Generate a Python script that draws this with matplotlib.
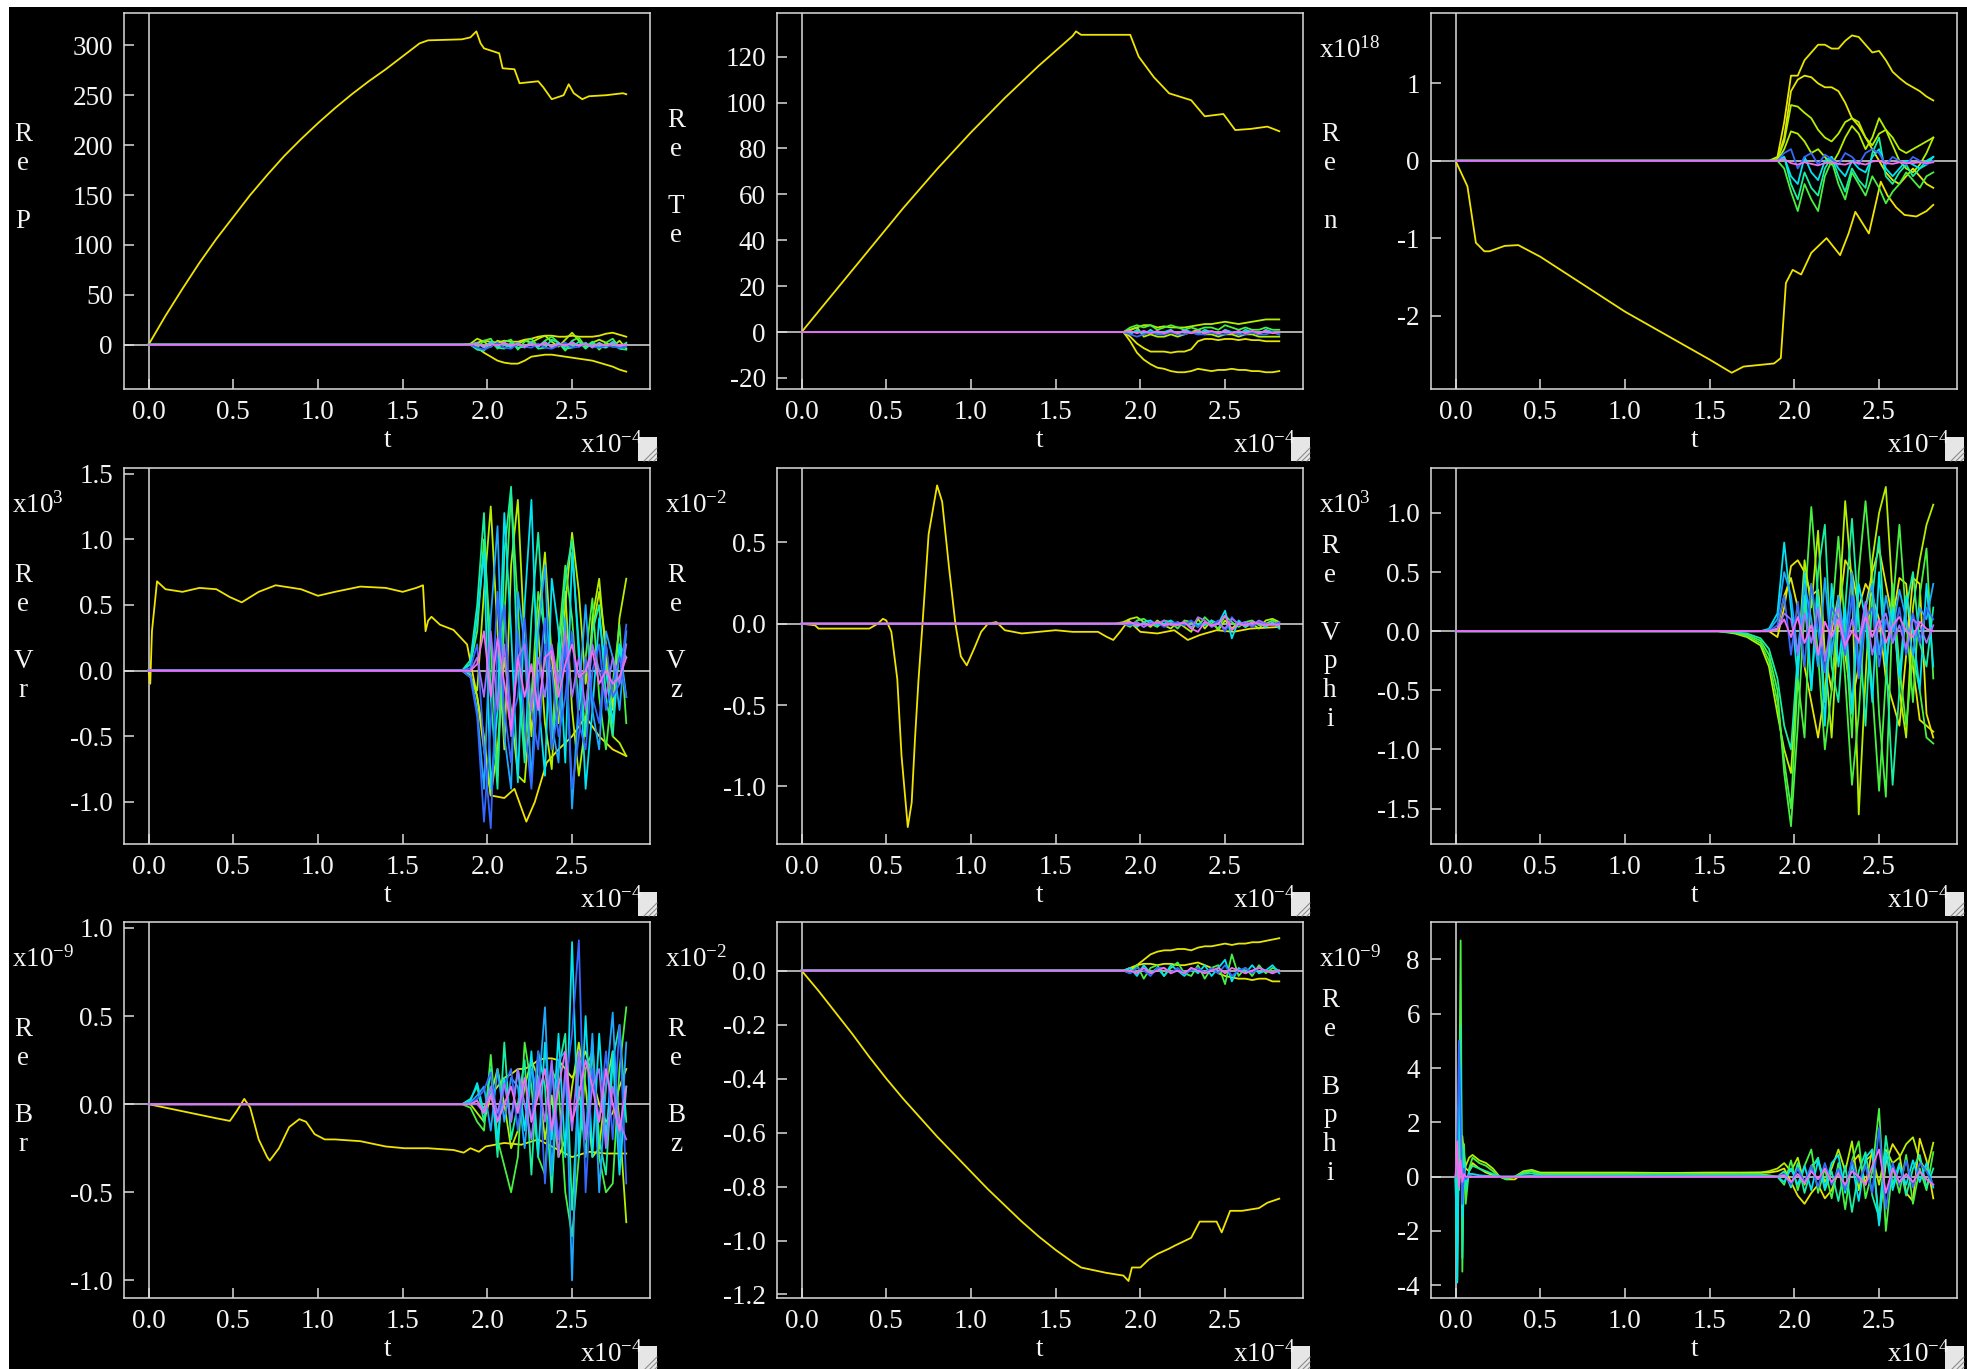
import matplotlib
matplotlib.use('Agg')
import matplotlib.pyplot as plt
from matplotlib.patches import Rectangle
from matplotlib.lines import Line2D

plt.rcParams['font.family'] = ['Liberation Serif', 'DejaVu Serif']
plt.rcParams['mathtext.default'] = 'regular'
plt.rcParams['axes.unicode_minus'] = False

W, H = 1967, 1369
fg = '#dcdcdc'
txt = '#f4f4f4'
yellow = '#f0e400'
mode_colors = {'y': '#e6e600', 'yg': '#b4f000', 'g': '#48f040', 's': '#18f0a0',
               'c': '#00e4f4', 'sky': '#1ca8ff', 'b': '#3468ff', 'v': '#a070ff',
               'm': '#f46cf0'}

# times are in units of 1e-4
xt = [0.0, 0.5, 1.0, 1.5, 2.0, 2.5]
tb = [1.80, 1.85, 1.90, 1.94, 1.98, 2.02, 2.06, 2.10, 2.14, 2.18, 2.22, 2.26, 2.30,
      2.34, 2.38, 2.42, 2.46, 2.50, 2.54, 2.58, 2.62, 2.66, 2.70, 2.74, 2.78, 2.82]
t6 = [1.55, 1.65, 1.72] + tb
t9 = [0.01, 0.02, 0.03, 0.04, 0.05, 0.06, 0.08, 0.1, 0.14, 0.18, 0.22, 0.26, 0.3,
      0.35, 0.4, 0.45, 0.5, 1.0, 1.5] + tb

# ---- Re P
P_t = [0, 0.1, 0.2, 0.3, 0.4, 0.5, 0.6, 0.7, 0.8, 0.9, 1.0, 1.1, 1.2, 1.3, 1.4, 1.5, 1.6, 1.65,
       1.85, 1.9, 1.935, 1.96, 1.98, 2.07, 2.09, 2.16, 2.19, 2.3, 2.33, 2.38, 2.45, 2.48, 2.51,
       2.56, 2.6, 2.7, 2.8, 2.82]
P_y = [0, 29, 56, 82, 106, 128, 150, 170, 189, 206, 222, 237, 251, 264, 276, 289, 302, 305,
       306, 308, 314, 302, 297, 292, 277, 276, 262, 264, 258, 246, 250, 261, 252,
       246, 249, 250, 252, 251]
P_y1 = [0, 0, 0, -3, -8, -12, -16, -18, -19, -19, -16, -12, -11, -10, -10, -11, -12, -13, -14, -15, -16, -18, -20, -22, -25, -27]
P_y2 = [0, 0, 0, 2, 4, 3, 2, 4, 3, 3, 5, 6, 8, 9, 9, 8, 8, 9, 8, 8, 8, 9, 11, 12, 10, 8]
P_yg = [0, 0, 1, 6, 3, -2, 4, 2, -3, 1, 4, 2, 6, 9, 3, -2, 5, 12, 4, -3, 2, 5, 2, -2, 4, -4]
P_g = [0, 0, 0, -3, 4, 6, -4, 3, 5, -5, 3, 6, -2, 4, 8, 2, -6, 4, 7, -2, 3, -5, 2, 6, -3, 2]
P_s = [0, 0, 0, -5, -6, 2, -3, -4, 2, -3, -2, 3, -4, -3, 5, 2, -4, -3, 3, -4, 2, -2, -3, 1, -4, -5]
P_c = [0, 0, 0, 2, -3, 3, -2, 2, -3, 2, -3, 2, -2, 3, -3, 2, -2, 3, -2, 2, -3, 2, -2, 3, -2, 1]
P_b = [0, 0, 0, -3, -5, -2, 2, -3, -4, 1, -2, -3, 1, -3, -4, -1, 2, -3, -2, 1, -2, -3, -1, -2, -3, -2]
P_m = [0, 0, 0, 1, -2, 1, -1, 2, -1, 1, -2, 1, -1, 2, -2, 1, -1, 2, -1, 1, -2, 1, -1, 1, -1, 0]

# ---- Re Te
Te_t = [0, 0.2, 0.4, 0.6, 0.8, 1.0, 1.2, 1.4, 1.6, 1.62, 1.65, 1.94, 1.99, 2.08, 2.17, 2.3,
        2.38, 2.49, 2.56, 2.65, 2.75, 2.82]
Te_y = [0, 18, 36, 54, 71, 87, 102, 116, 129, 131, 129.5, 129.5, 120, 111, 104, 101,
        94, 95, 88, 88.5, 89.5, 87.5]
Te_y1 = [0, 0, 0, -4, -9, -12, -14, -15.5, -16, -17, -17.5, -17.5, -17, -16, -16.5, -17, -16.5, -16.5, -16, -16.5, -16.5, -17, -17, -17.5, -17.5, -17]
Te_y2 = [0, 0, 0, -2, -5, -7, -8.5, -8.5, -8.5, -9, -8.5, -8.5, -7.5, -4, -3, -3, -3.5, -3, -3, -3.5, -3, -3.5, -3.5, -4, -4, -4]
Te_yg = [0, 0, 0, 1, 2, 3, 3, 2, 2.5, 2, 2, 2, 2.5, 3, 3.5, 3.5, 4, 4.5, 4, 3.5, 4, 4.5, 5, 5.5, 5.5, 5.5]
Te_yg2 = [0, 0, 0, 1, 2, -2, -1, -2, -2, -1, -2, -1, 0, 1, -1, -1, -2, -1, -1, -2, -1, -1, -2, -2, -2, -2]
Te_g = [0, 0, 0, 2, 3, 2, 3, 1, 2, 3, 2, 1, 2, 1, 2, 2, 1, 3, 2, 1, 2, 1, 1, 2, 1, 1]
Te_c = [0, 0, 0, -1, 1, -1, 1, -1, 0, 1, -1, 1, 0, -1, 1, 0, -1, 1, 0, -1, 1, 0, -1, 1, 0, -1]
Te_b = [0, 0, 0, -1, -2, -1, 0, -1, -1, 0, -1, -1, 0, -1, -1, 0, -1, -1, 0, -1, -1, 0, -1, -1, 0, -1]
Te_m = [0, 0, 0, 0.5, -0.5, 0.5, -0.5, 0.5, -0.5, 0.5, -0.5, 0.5, -0.5, 0.5, -0.5, 0.5, -0.5, 0.5, -0.5, 0.5, -0.5, 0.5, -0.5, 0.5, -0.5, 0]

# ---- Re n (x1e18)
n_t = [0, 0.07, 0.12, 0.17, 0.2, 0.29, 0.37, 0.5, 1.0, 1.5, 1.63, 1.7, 1.88, 1.92, 1.95,
       1.99, 2.04, 2.1, 2.19, 2.27, 2.32, 2.36, 2.44, 2.51, 2.55, 2.6, 2.65, 2.72, 2.78, 2.82]
n_y = [0, -0.33, -1.06, -1.17, -1.17, -1.10, -1.09, -1.24, -1.95, -2.57, -2.74, -2.66, -2.62, -2.55, -1.58,
       -1.41, -1.47, -1.19, -1.0, -1.22, -0.94, -0.66, -0.94, -0.27, -0.45, -0.6, -0.7, -0.72, -0.65, -0.57]
n_y1 = [0, 0, 0.05, 0.5, 1.1, 1.1, 1.3, 1.4, 1.5, 1.5, 1.45, 1.45, 1.55, 1.62, 1.6, 1.5, 1.4, 1.42, 1.3, 1.15, 1.07, 1.0, 0.95, 0.9, 0.83, 0.78]
n_y2 = [0, 0, 0.02, 0.3, 0.9, 1.05, 1.1, 1.08, 1.0, 0.95, 0.95, 0.9, 0.75, 0.55, 0.45, 0.3, 0.15, 0.0, -0.15, -0.25, -0.3, -0.2, -0.1, -0.2, -0.3, -0.35]
n_yg = [0, 0, 0.02, 0.25, 0.72, 0.7, 0.62, 0.55, 0.4, 0.3, 0.25, 0.35, 0.5, 0.55, 0.5, 0.3, 0.2, 0.35, 0.4, 0.3, 0.15, 0.1, 0.15, 0.2, 0.25, 0.3]
n_yg2 = [0, 0, 0, 0.15, 0.38, 0.35, 0.25, 0.1, 0.15, 0.05, -0.05, 0.1, 0.3, 0.45, 0.35, 0.15, 0.3, 0.55, 0.4, 0.2, 0.0, -0.1, -0.15, -0.05, 0.1, 0.3]
n_g = [0, 0, 0, -0.1, -0.4, -0.65, -0.3, -0.5, -0.65, -0.2, 0.0, -0.3, -0.5, -0.15, -0.3, -0.45, -0.2, -0.35, -0.55, -0.4, -0.3, -0.15, -0.25, -0.35, -0.2, -0.15]
n_s = [0, 0, 0, 0.05, -0.3, -0.5, -0.15, -0.35, -0.45, -0.1, 0.05, -0.2, -0.4, -0.1, -0.25, -0.35, 0.1, 0.3, -0.2, -0.3, -0.15, -0.05, -0.2, -0.1, -0.05, 0.05]
n_c = [0, 0, 0, 0.05, -0.2, -0.3, 0.05, -0.15, -0.25, 0.0, 0.05, -0.1, -0.2, 0.0, -0.1, -0.15, 0.05, 0.15, -0.1, -0.2, -0.1, 0.0, -0.05, -0.1, 0.0, 0.05]
n_b = [0, 0, 0, 0.1, 0.15, -0.1, 0.05, 0.1, -0.05, 0.08, 0.02, -0.05, 0.1, 0.05, -0.05, 0.1, 0.15, 0.1, -0.05, 0.05, 0.0, -0.05, 0.05, 0.0, -0.05, 0.0]
n_m = [0, 0, 0, 0.02, -0.03, -0.05, -0.02, -0.04, -0.06, -0.03, -0.02, -0.04, -0.05, -0.02, -0.03, -0.05, -0.01, 0.0, -0.03, -0.04, -0.02, -0.03, -0.03, -0.02, -0.03, -0.02]

# ---- Re Vr (x1e3)
Vr_t = [0, 0.01, 0.02, 0.05, 0.1, 0.2, 0.3, 0.4, 0.48, 0.55, 0.65, 0.75, 0.9, 1.0, 1.1,
        1.25, 1.4, 1.5, 1.58, 1.62, 1.635, 1.65, 1.67, 1.72, 1.8, 1.88, 1.94, 1.98, 2.02, 2.1,
        2.16, 2.23, 2.28, 2.35, 2.42, 2.5, 2.58, 2.66, 2.74, 2.82]
Vr_y = [0, -0.1, 0.3, 0.68, 0.62, 0.6, 0.63, 0.62, 0.56, 0.52, 0.6, 0.65, 0.62, 0.57, 0.6,
        0.64, 0.63, 0.6, 0.63, 0.65, 0.3, 0.38, 0.41, 0.35, 0.31, 0.2, -0.2, -0.6, -0.95, -0.97,
        -0.9, -1.15, -1.0, -0.7, -0.6, -0.5, -0.35, -0.5, -0.6, -0.65]
Vr_yg = [0, 0, -0.05, -0.15, 0.6, 1.25, 0.3, -0.6, 0.8, 1.3, 0.2, -0.5, 0.4, 0.9, 0.1, -0.4, 0.5, 1.05, 0.6, -0.1, 0.3, 0.6, 0.2, -0.3, 0.4, 0.7]
Vr_yg2 = [0, 0, -0.03, -0.2, -0.5, -0.95, -0.6, 0.1, -0.3, -0.8, -0.85, -0.2, 0.3, -0.4, -0.75, 0.2, 0.6, -0.3, -0.8, -0.4, 0.4, 0.7, 0.1, -0.5, -0.55, -0.65]
Vr_g = [0, 0, 0.05, 0.3, 1.0, 0.2, -0.8, 0.4, 1.35, 0.5, -0.6, -0.2, 0.6, 0.3, -0.5, 0.2, 0.8, 0.4, -0.3, 0.1, 0.55, -0.2, -0.6, -0.1, 0.35, -0.4]
Vr_s = [0, 0, 0.08, 0.5, 1.2, -0.2, -0.9, 0.9, 1.4, 0.0, -0.7, 0.4, 1.05, 0.2, -0.6, -0.1, 0.7, 1.0, 0.1, -0.5, 0.3, 0.5, -0.2, -0.5, 0.2, 0.1]
Vr_c = [0, 0, 0.05, 0.4, 0.9, -0.9, -0.3, 1.2, 0.3, -0.85, 0.5, 1.3, -0.2, -0.8, 0.7, 0.3, -0.7, 0.9, 0.2, -0.9, -0.3, 0.4, 0.0, -0.4, 0.2, -0.2]
Vr_sky = [0, 0, -0.02, -0.3, -0.9, 0.4, 1.1, -0.5, -0.9, 0.6, 0.2, -0.85, 0.3, 0.8, -0.4, -0.7, 0.4, -1.05, -0.2, 0.5, -0.3, -0.6, 0.3, 0.1, -0.3, 0.3]
Vr_b = [0, 0, -0.05, -0.35, -1.15, -0.4, 0.6, -0.3, -0.7, 0.3, -0.4, -0.9, -0.1, 0.4, -0.6, -0.3, 0.2, -0.9, -0.5, 0.1, -0.2, -0.4, 0.2, -0.2, -0.1, 0.35]
Vr_b2 = [0, 0, 0.02, 0.2, -0.6, -1.2, 0.2, 0.5, -0.4, -0.2, 0.4, -0.3, -0.6, 0.2, 0.0, -0.5, -0.2, 0.3, -0.4, -0.6, 0.0, 0.2, -0.3, -0.1, 0.1, -0.2]
Vr_v = [0, 0, 0, 0.1, -0.2, 0.3, -0.3, 0.2, -0.5, 0.1, 0.2, -0.3, 0.1, -0.2, 0.2, -0.1, 0.3, -0.2, 0.1, -0.3, 0.2, 0.0, -0.2, 0.1, -0.1, 0.2]
Vr_m = [0, 0, 0, 0.05, 0.3, -0.2, 0.25, -0.1, -0.45, 0.1, -0.2, 0.05, -0.3, 0.1, 0.15, -0.2, 0.05, 0.2, -0.05, 0.0, 0.15, -0.1, 0.0, -0.1, -0.05, 0.1]

# ---- Re Vz (x1e-2)
Vz_t = [0, 0.08, 0.1, 0.3, 0.4, 0.45, 0.48, 0.5, 0.53, 0.565, 0.59, 0.627, 0.65, 0.67, 0.69,
        0.714, 0.75, 0.8, 0.83, 0.87, 0.908, 0.94, 0.975, 1.02, 1.06, 1.1, 1.15, 1.2, 1.3, 1.4,
        1.5, 1.6, 1.75, 1.8, 1.84, 1.88, 1.93, 2.0, 2.1, 2.2, 2.28, 2.35, 2.45, 2.55, 2.65, 2.82]
Vz_y = [0, -0.01, -0.03, -0.03, -0.03, 0.0, 0.03, 0.02, -0.05, -0.34, -0.81, -1.25, -1.1, -0.7, -0.35,
        0.0, 0.55, 0.85, 0.75, 0.35, 0.0, -0.2, -0.256, -0.15, -0.05, 0.0, 0.01, -0.04, -0.06, -0.05,
        -0.04, -0.05, -0.05, -0.08, -0.1, -0.05, 0.02, -0.05, -0.06, -0.04, -0.1, -0.07, -0.04, -0.05, -0.03, -0.02]
Vz_yg = [0, 0, 0.01, 0.03, 0.04, 0.01, -0.02, 0.02, -0.01, -0.03, 0.01, -0.02, -0.05, 0.03, -0.03, 0.02, -0.04, 0.02, -0.03, 0.01, -0.02, 0.0, -0.03, 0.02, 0.03, 0.01]
Vz_g = [0, 0, 0.0, -0.02, 0.02, 0.03, 0.0, -0.02, 0.02, 0.01, -0.03, 0.02, 0.01, -0.02, 0.04, 0.0, -0.03, 0.05, 0.01, -0.02, 0.01, 0.02, -0.01, 0.0, 0.02, 0.0]
Vz_c = [0, 0, 0.0, 0.01, -0.02, 0.01, 0.02, -0.01, 0.0, 0.02, -0.01, 0.01, -0.02, 0.0, -0.01, 0.02, 0.0, 0.08, -0.09, 0.02, -0.02, 0.01, 0.0, -0.02, 0.01, -0.03]
Vz_b = [0, 0, 0.0, -0.01, 0.01, -0.02, 0.0, 0.01, -0.02, 0.0, 0.01, -0.01, 0.02, -0.02, 0.01, -0.01, 0.02, -0.05, 0.04, -0.01, 0.01, -0.02, 0.01, 0.0, -0.01, 0.01]
Vz_v = [0, 0, 0, 0.0, 0.01, -0.02, 0.01, 0.0, 0.02, -0.01, 0.0, 0.01, -0.03, 0.04, 0.02, -0.02, 0.0, -0.03, 0.03, 0.0, 0.01, -0.01, 0.02, 0.0, -0.01, 0.0]
Vz_m = [0, 0, 0.0, 0.01, -0.01, 0.0, -0.01, 0.01, -0.01, 0.0, -0.01, 0.01, -0.03, -0.05, 0.01, -0.01, 0.0, 0.05, -0.04, 0.0, -0.01, 0.01, 0.0, -0.01, 0.0, -0.01]

# ---- Re Vphi (x1e3), modes on t6
Vp_g1 = [0, -0.01, -0.03, -0.08, -0.2, -0.5, -1.2, -1.65, -0.8, 0.2, 1.05, 0.3, -0.6, 0.1, 0.8, 0.0, -0.9, 0.5, 1.1, 0.4, -0.7, -1.4, 0.2, 0.9, 0.1, -0.6, 0.3, 0.7, -0.4]
Vp_g2 = [0, -0.02, -0.05, -0.12, -0.3, -0.7, -1.0, -1.2, -0.3, 0.6, 0.2, 0.85, -0.2, -0.9, 0.1, 1.1, 0.4, -1.55, -0.4, 0.6, 1.0, 1.22, 0.3, -0.5, -0.9, 0.2, 0.6, 0.9, 1.07]
Vp_g3 = [0, -0.01, -0.04, -0.1, -0.25, -0.6, -1.1, -1.5, -0.4, -0.9, 0.4, -0.2, -1.0, -0.5, 0.3, -0.4, -1.3, -0.7, 0.2, -0.5, -1.35, -0.4, 0.4, -0.3, -0.8, -0.2, -0.5, -0.9, -0.95]
Vp_y1 = [0, 0, 0, 0, 0, -0.05, 0.2, 0.55, 0.6, 0.5, 0.3, 0.35, -0.2, -0.5, 0.1, 0.6, 0.5, 0.2, 0.4, 0.3, 0.1, -0.4, -0.6, -0.8, -0.2, 0.45, 0.4, -0.7, -0.9]
Vp_y2 = [0, 0, 0, 0, 0, 0.02, 0.3, 0.45, 0.2, -0.3, -0.6, -0.9, -0.5, 0.0, 0.3, -0.2, -0.6, -0.3, 0.2, 0.5, 0.7, 0.4, 0.1, 0.45, 0.4, -0.3, -0.75, -0.8, -0.85]
Vp_s = [0, -0.01, -0.02, -0.06, -0.15, -0.4, -0.8, -1.0, -0.2, 0.3, -0.5, 0.5, 0.9, -0.3, -0.6, 0.2, 0.95, 0.1, -0.8, 0.3, 0.8, -0.2, -1.3, -0.5, 0.2, 0.5, -0.1, -0.3, 0.2]
Vp_c = [0, 0, 0, 0, 0.02, 0.15, 0.75, 0.2, -0.4, 0.5, -0.5, 0.3, -0.8, 0.4, -0.3, 0.2, -0.7, 0.4, 0.1, -0.6, 0.5, -0.3, 0.2, -0.4, 0.3, 0.0, -0.5, 0.4, -0.3]
Vp_sky = [0, 0, 0, 0, 0.01, 0.1, 0.5, 0.3, -0.2, 0.4, 0.1, -0.3, 0.45, -0.2, 0.3, -0.1, 0.5, -0.3, 0.2, 0.4, -0.2, 0.3, 0.0, 0.35, 0.1, -0.2, 0.2, 0.1, 0.4]
Vp_b = [0, 0, 0, 0, 0, 0.05, 0.3, -0.2, 0.25, -0.3, 0.4, 0.0, -0.35, 0.2, 0.1, -0.2, 0.3, -0.4, 0.1, 0.2, -0.3, 0.1, -0.1, 0.2, -0.2, 0.15, -0.1, 0.2, 0.1]
Vp_v = [0, 0, 0, 0, 0, 0.02, 0.15, 0.1, -0.2, 0.15, -0.1, 0.2, -0.25, 0.05, 0.2, -0.15, 0.1, -0.1, 0.25, -0.2, 0.05, 0.15, -0.1, 0.05, -0.15, 0.1, 0.05, -0.1, 0.05]
Vp_m = [0, 0, 0, 0, 0, 0.02, 0.1, -0.05, 0.12, -0.1, 0.05, -0.2, 0.08, -0.05, 0.1, -0.12, 0.0, -0.08, 0.12, -0.05, 0.1, -0.1, 0.05, 0.12, 0.0, -0.05, 0.08, 0.02, 0.0]

# ---- Re Br (x1e-9)
Br_t = [0, 0.1, 0.2, 0.3, 0.4, 0.48, 0.52, 0.565, 0.6, 0.65, 0.7, 0.715, 0.77, 0.83, 0.89,
        0.93, 0.98, 1.04, 1.1, 1.25, 1.4, 1.51, 1.65, 1.8, 1.86, 1.9, 1.95, 1.99, 2.1, 2.2,
        2.3, 2.4, 2.5, 2.6, 2.7, 2.82]
Br_y = [0, -0.02, -0.04, -0.06, -0.08, -0.095, -0.04, 0.03, -0.02, -0.2, -0.3, -0.32, -0.25, -0.13, -0.085,
        -0.1, -0.17, -0.2, -0.2, -0.21, -0.24, -0.25, -0.25, -0.26, -0.275, -0.25, -0.27, -0.24, -0.22, -0.23,
        -0.2, -0.25, -0.3, -0.27, -0.28, -0.28]
Br_y1 = [0, 0, 0, 0, -0.02, 0.05, 0.1, 0.15, 0.17, 0.2, 0.2, 0.22, 0.25, 0.26, 0.26, 0.25, 0.2, 0.15, 0.22, 0.3, 0.15, 0.0, -0.1, -0.05, 0.1, 0.2]
Br_yg = [0, 0, 0, -0.05, -0.1, 0.05, 0.2, 0.0, -0.25, -0.15, 0.1, 0.25, 0.15, -0.2, 0.05, -0.3, -0.2, 0.1, 0.35, 0.1, -0.3, -0.25, 0.1, 0.3, -0.1, -0.67]
Br_g = [0, 0, -0.02, -0.1, -0.15, 0.28, -0.2, -0.35, -0.5, -0.3, 0.35, 0.1, -0.3, -0.4, 0.2, 0.1, -0.5, -0.75, -0.3, 0.2, 0.3, -0.3, -0.5, -0.45, 0.2, 0.55]
Br_s = [0, 0, 0.03, 0.1, -0.1, 0.2, -0.3, 0.35, -0.2, 0.0, 0.25, -0.4, 0.3, 0.1, -0.5, 0.2, 0.4, -0.6, 0.1, -0.3, 0.35, -0.2, -0.4, 0.25, 0.45, -0.1]
Br_c = [0, 0, 0.02, 0.12, -0.05, 0.1, -0.2, 0.15, -0.1, 0.2, -0.15, 0.3, -0.3, 0.35, -0.2, 0.4, -0.3, 0.92, -0.3, 0.5, -0.3, 0.4, -0.2, 0.3, -0.4, 0.1]
Br_sky = [0, 0, 0.01, 0.05, 0.1, -0.15, 0.2, -0.1, 0.15, 0.1, -0.25, 0.2, 0.05, 0.55, -0.4, 0.25, 0.3, -1.0, 0.3, -0.2, 0.4, -0.5, 0.1, 0.52, -0.3, 0.35]
Br_b = [0, 0, 0.0, 0.03, 0.08, 0.18, -0.1, 0.1, 0.2, -0.15, 0.15, -0.1, 0.3, -0.45, 0.2, -0.2, 0.1, 0.4, 0.93, -0.5, 0.2, -0.1, 0.3, -0.2, 0.45, -0.45]
Br_v = [0, 0, 0, 0.0, -0.05, 0.1, -0.05, 0.12, -0.1, 0.2, 0.0, -0.2, 0.15, -0.1, 0.25, -0.3, 0.2, -0.15, 0.3, -0.2, 0.1, 0.2, -0.25, 0.1, -0.1, -0.2]
Br_m = [0, 0, 0, 0.02, -0.05, 0.05, -0.1, 0.0, 0.1, -0.05, 0.15, -0.1, 0.05, 0.2, -0.15, 0.1, 0.3, -0.1, 0.05, 0.25, 0.1, -0.1, 0.2, 0.0, -0.15, 0.1]

# ---- Re Bz (x1e-2)
Bz_t = [0, 0.1, 0.2, 0.3, 0.4, 0.5, 0.6, 0.7, 0.8, 0.9, 1.0, 1.1, 1.2, 1.3, 1.4, 1.5, 1.6,
        1.65, 1.8, 1.9, 1.93, 1.95, 2.0, 2.05, 2.1, 2.17, 2.2, 2.3, 2.35, 2.45, 2.48, 2.53,
        2.6, 2.7, 2.75, 2.82]
Bz_y = [0, -0.075, -0.155, -0.235, -0.32, -0.4, -0.475, -0.545, -0.615, -0.68, -0.745, -0.81,
        -0.87, -0.93, -0.985, -1.035, -1.08, -1.1, -1.12, -1.13, -1.15, -1.1, -1.1, -1.07, -1.05,
        -1.03, -1.02, -0.99, -0.93, -0.93, -0.97, -0.89, -0.89, -0.88, -0.86, -0.845]
Bz_y1 = [0, 0, 0, 0.0, 0.02, 0.04, 0.06, 0.07, 0.075, 0.075, 0.08, 0.08, 0.075, 0.085, 0.09, 0.09, 0.095, 0.1, 0.095, 0.1, 0.1, 0.105, 0.105, 0.11, 0.115, 0.12]
Bz_y2 = [0, 0, 0, 0.01, 0.02, 0.025, 0.025, 0.02, 0.025, 0.025, 0.02, 0.02, 0.025, 0.03, 0.02, 0.01, -0.01, -0.02, -0.025, -0.03, -0.03, -0.035, -0.03, -0.03, -0.04, -0.04]
Bz_g = [0, 0, 0, -0.01, 0.02, -0.03, 0.01, 0.02, -0.02, 0.01, 0.03, -0.01, -0.02, 0.02, -0.03, 0.01, 0.02, -0.05, 0.06, -0.02, 0.01, -0.02, 0.02, -0.01, 0.01, 0.0]
Bz_c = [0, 0, 0, 0.01, -0.02, 0.02, -0.01, 0.01, -0.02, 0.02, 0.0, -0.02, 0.01, -0.01, 0.02, -0.02, 0.01, 0.04, -0.04, 0.01, -0.01, 0.02, -0.01, 0.0, 0.02, -0.01]
Bz_b = [0, 0, 0, -0.01, 0.01, 0.0, -0.02, 0.01, 0.01, -0.01, 0.01, -0.01, 0.0, 0.01, -0.01, 0.01, -0.01, 0.02, -0.02, 0.0, 0.01, -0.01, 0.01, 0.0, -0.01, 0.0]
Bz_m = [0, 0, 0, 0.0, -0.01, 0.01, -0.01, 0.0, 0.01, -0.01, 0.0, -0.01, 0.01, 0.0, -0.01, 0.0, 0.01, -0.01, 0.01, 0.0, -0.01, 0.0, 0.01, 0.0, -0.01, 0.0]

# ---- Re Bphi (x1e-9), modes on t9 (early burst, then late growth)
Bp_y = [0.2, 0.5, 1.0, 1.5, 0.8, 0.3, 0.2, 0.5, 0.3, 0.15, 0.05, 0.0, -0.1, -0.1, 0.15, 0.2, 0.1, 0.12, 0.15] + \
       [0.15, 0.15, 0.2, 0.3, -0.2, -0.7, -1.0, -0.6, -0.3, -0.8, -0.5, 0.2, -0.4, 0.5, 0.8, -0.3, 1.0, -1.7, 0.5, 1.2, 0.8, -0.6, -0.9, 1.4, 0.6, -0.8]
Bp_yg = [0.3, -0.5, 2.0, -1.5, 0.6, 0.4, 0.7, 0.8, 0.6, 0.5, 0.3, 0.0, -0.05, 0.0, 0.2, 0.25, 0.15, 0.15, 0.12] + \
        [0.15, 0.2, 0.3, 0.5, 0.2, 0.7, -0.3, 0.4, 0.6, -0.2, 0.3, 1.0, 0.2, 1.3, -0.5, 0.6, 0.8, -0.3, 1.0, 0.5, 0.7, 1.2, 1.45, 0.6, 0.2, 1.25]
Bp_g = [-3.8, 1.5, 8.7, -3.5, 1.2, -1.0, 0.3, 0.7, 0.5, 0.4, 0.2, 0.0, -0.1, 0.0, 0.15, 0.2, 0.1, 0.1, 0.1] + \
       [0.1, 0.05, 0.0, -0.3, 0.6, -0.5, 0.4, 1.0, -0.6, 0.3, -0.8, 0.5, -1.2, 0.6, 1.3, -0.8, 0.2, 2.5, -2.0, 0.4, -0.6, 0.8, -1.0, 0.3, -0.5, 0.9]
Bp_s = [-2.5, 3.0, 5.5, -3.0, 1.0, -0.5, 0.2, 0.4, 0.3, 0.2, 0.1, 0.0, -0.05, 0.0, 0.1, 0.12, 0.05, 0.05, 0.05] + \
       [0.05, 0.0, 0.0, 0.2, -0.4, 0.5, -0.6, 0.3, 0.7, -0.5, 0.2, -0.9, 0.4, -1.3, 0.2, 0.9, -0.7, -1.5, 1.5, -0.3, 0.5, -0.7, 0.3, 0.8, -0.4, 0.3]
Bp_c = [-3.9, 2.0, 4.0, -1.5, 0.5, -0.2, 0.1, 0.1, 0.05, 0.03, 0.02, 0.0, 0.0, 0.0, 0.02, 0.03, 0.02, 0.02, 0.02] + \
       [0.02, 0.0, 0.0, -0.2, 0.3, -0.3, 0.4, -0.5, 0.6, -0.4, 0.5, 0.8, -0.6, 0.5, -0.9, 0.7, 1.0, -1.8, 0.9, -0.5, 0.4, -0.3, 0.6, -0.2, 0.5, -0.4]
Bp_b = [1.0, 5.0, 2.0, -1.0, 0.3, -0.1, 0.05, 0.0, 0.0, 0.0, 0.0, 0.0, 0.0, 0.0, 0.0, 0.0, 0.0, 0.0, 0.0] + \
       [0.0, 0.0, 0.0, 0.1, -0.3, 0.3, -0.2, 0.4, -0.4, 0.5, -0.3, 0.3, -0.5, 0.6, -0.2, 0.4, -0.6, 1.8, -1.2, 0.5, -0.3, 0.6, -0.4, 0.5, 0.2, -0.3]
Bp_m = [1.3, -0.4, 0.6, -0.2, 0.1, 0.0, 0.0, 0.0, 0.0, 0.0, 0.0, 0.0, 0.0, 0.0, 0.0, 0.0, 0.0, 0.0, 0.0] + \
       [0.0, 0.0, 0.0, 0.05, -0.2, 0.1, -0.25, 0.2, -0.1, 0.3, -0.2, 0.1, -0.3, 0.2, 0.0, -0.3, 0.4, 1.0, -0.6, 0.3, -0.2, 0.1, -0.2, 0.2, -0.1, -0.3]

panels = [
    dict(row=0, col=0, label='R\ne\n\nP', mult=None, t_main=P_t, y_main=P_y, t_modes=tb,
         modes=[('y', P_y1), ('y', P_y2), ('yg', P_yg), ('g', P_g), ('s', P_s), ('c', P_c), ('b', P_b), ('m', P_m)],
         ylim=(-44.4, 332.4), yticks=[0, 50, 100, 150, 200, 250, 300], fmt='%d'),
    dict(row=0, col=1, label='R\ne\n\nT\ne', mult=None, t_main=Te_t, y_main=Te_y, t_modes=tb,
         modes=[('y', Te_y1), ('y', Te_y2), ('yg', Te_yg), ('yg', Te_yg2), ('g', Te_g), ('c', Te_c), ('b', Te_b), ('m', Te_m)],
         ylim=(-24.8, 139), yticks=[-20, 0, 20, 40, 60, 80, 100, 120], fmt='%d'),
    dict(row=0, col=2, label='R\ne\n\nn', mult='x10$^{18}$', t_main=n_t, y_main=n_y, t_modes=tb,
         modes=[('y', n_y1), ('y', n_y2), ('yg', n_yg), ('yg', n_yg2), ('g', n_g), ('s', n_s), ('c', n_c), ('b', n_b), ('m', n_m)],
         ylim=(-2.95, 1.91), yticks=[-2, -1, 0, 1], fmt='%d'),
    dict(row=1, col=0, label='R\ne\n\nV\nr', mult='x10$^{3}$', t_main=Vr_t, y_main=Vr_y, t_modes=tb,
         modes=[('yg', Vr_yg), ('yg', Vr_yg2), ('g', Vr_g), ('s', Vr_s), ('c', Vr_c), ('sky', Vr_sky),
                ('b', Vr_b), ('b', Vr_b2), ('v', Vr_v), ('m', Vr_m)],
         ylim=(-1.32, 1.543), yticks=[-1.0, -0.5, 0.0, 0.5, 1.0, 1.5], fmt='%.1f'),
    dict(row=1, col=1, label='R\ne\n\nV\nz', mult='x10$^{-2}$', t_main=Vz_t, y_main=Vz_y, t_modes=tb,
         modes=[('yg', Vz_yg), ('g', Vz_g), ('c', Vz_c), ('b', Vz_b), ('v', Vz_v), ('m', Vz_m)],
         ylim=(-1.354, 0.957), yticks=[-1.0, -0.5, 0.0, 0.5], fmt='%.1f'),
    dict(row=1, col=2, label='R\ne\n\nV\np\nh\ni', mult='x10$^{3}$', t_main=None, y_main=None, t_modes=t6,
         modes=[('y', Vp_y1), ('y', Vp_y2), ('g', Vp_g1), ('yg', Vp_g2), ('g', Vp_g3), ('s', Vp_s), ('c', Vp_c),
                ('sky', Vp_sky), ('b', Vp_b), ('v', Vp_v), ('m', Vp_m)],
         ylim=(-1.80, 1.38), yticks=[-1.5, -1.0, -0.5, 0.0, 0.5, 1.0], fmt='%.1f'),
    dict(row=2, col=0, label='R\ne\n\nB\nr', mult='x10$^{-9}$', t_main=Br_t, y_main=Br_y, t_modes=tb,
         modes=[('y', Br_y1), ('yg', Br_yg), ('g', Br_g), ('s', Br_s), ('c', Br_c), ('sky', Br_sky),
                ('b', Br_b), ('v', Br_v), ('m', Br_m)],
         ylim=(-1.10, 1.034), yticks=[-1.0, -0.5, 0.0, 0.5, 1.0], fmt='%.1f'),
    dict(row=2, col=1, label='R\ne\n\nB\nz', mult='x10$^{-2}$', t_main=Bz_t, y_main=Bz_y, t_modes=tb,
         modes=[('y', Bz_y1), ('y', Bz_y2), ('g', Bz_g), ('c', Bz_c), ('b', Bz_b), ('m', Bz_m)],
         ylim=(-1.213, 0.18), yticks=[-1.2, -1.0, -0.8, -0.6, -0.4, -0.2, 0.0], fmt='%.1f'),
    dict(row=2, col=2, label='R\ne\n\nB\np\nh\ni', mult='x10$^{-9}$', t_main=None, y_main=None, t_modes=t9,
         modes=[('y', Bp_y), ('yg', Bp_yg), ('g', Bp_g), ('s', Bp_s), ('c', Bp_c), ('b', Bp_b), ('m', Bp_m)],
         ylim=(-4.47, 9.38), yticks=[-4, -2, 0, 2, 4, 6, 8], fmt='%d'),
]

lefts = [124, 777, 1431]
tops = [13, 468, 922]
pw, ph = 526, 376
fs = 19.5


def fx(x):
    return x / W


def fy(y):
    return 1 - y / H


fig = plt.figure(figsize=(W / 100, H / 100), dpi=100, facecolor='black')
# thin white margin along the top and left edges
fig.add_artist(Rectangle((0, fy(7)), 1, 7 / H, transform=fig.transFigure, color='white', lw=0))
fig.add_artist(Rectangle((0, 0), 9 / W, 1, transform=fig.transFigure, color='white', lw=0))

for p in panels:
    L = lefts[p['col']]
    T = tops[p['row']]
    ax = fig.add_axes([fx(L), fy(T + ph), pw / W, ph / H])
    ax.set_facecolor('black')
    ax.axhline(0, color=fg, lw=1.1, zorder=1)
    ax.axvline(0, color=fg, lw=1.1, zorder=1)
    if p['t_main'] is not None:
        ax.plot(p['t_main'], p['y_main'], color=yellow, lw=1.3, zorder=2)
    tm = [0.0] + p['t_modes']
    for c, v in p['modes']:
        ax.plot(tm, [0.0] + v, color=mode_colors[c], lw=1.3, zorder=3)

    ax.set_xlim(-0.145, 2.96)
    ax.set_ylim(*p['ylim'])
    ax.set_xticks(xt)
    ax.set_xticklabels(['%.1f' % v for v in xt])
    ax.set_yticks(p['yticks'])
    ax.set_yticklabels([p['fmt'] % v for v in p['yticks']])
    ax.tick_params(direction='in', length=7, width=1.1, color=fg, labelcolor=txt,
                   labelsize=fs, pad=8)
    for s in ax.spines.values():
        s.set_color(fg)
        s.set_linewidth(1.1)
        s.set_zorder(4)

    R = L + pw
    B = T + ph
    fig.text(fx(L - 101), fy(T + 165), p['label'], ha='center', va='center',
             fontsize=fs, color=txt, linespacing=1.2)
    if p['mult']:
        fig.text(fx(L - 112), fy(T + 45), p['mult'], ha='left', va='baseline',
                 fontsize=fs, color=txt)
    fig.text(fx(L + pw / 2), fy(B + 58), 't', ha='center', va='baseline', fontsize=fs, color=txt)
    fig.text(fx(R - 70), fy(B + 64), 'x10$^{-4}$', ha='left', va='baseline', fontsize=fs, color=txt)

    # small hatched marker box at the lower right corner
    bx, by = R - 12, B + 48
    fig.add_artist(Rectangle((fx(bx), fy(by + 24)), 19 / W, 24 / H, transform=fig.transFigure,
                             facecolor='#e6e6e6', edgecolor='none'))
    for k in (0, 5, 10):
        fig.add_artist(Line2D([fx(bx + 6 + k), fx(bx + 19)], [fy(by + 24), fy(by + 11 + k)],
                              transform=fig.transFigure, color='#8c8c8c', lw=0.8))

fig.savefig('out.png', dpi=100, facecolor=fig.get_facecolor())
